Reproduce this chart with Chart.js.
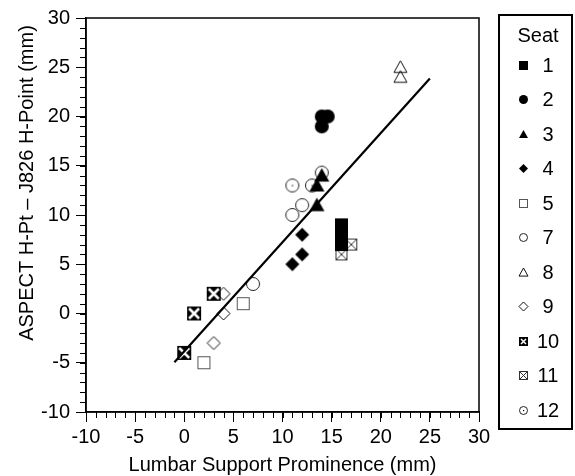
<!DOCTYPE html>
<html>
<head>
<meta charset="utf-8">
<script src="https://cdn.jsdelivr.net/npm/chart.js@4.4.0/dist/chart.umd.min.js"></script>
<style>
  html, body { margin: 0; padding: 0; background: #fff; }
</style>
</head>
<body>
<canvas id="seatChart" width="575" height="476"></canvas>
<script>
// Measurements per seat: [lumbar prominence (mm), H-point difference (mm)]
const seatNames = ['1', '2', '3', '4', '5', '7', '8', '9', '10', '11', '12'];
const seat1 = [[16, 7], [16, 8], [16, 9]];
const seat2 = [[14, 20], [14.6, 20], [14, 19]];
const seat3 = [[14, 14], [13.5, 13], [13.5, 11]];
const seat4 = [[12, 8], [12, 6], [11, 5]];
const seat5 = [[6, 1], [2, -5]];
const seat7 = [[12, 11], [11, 10], [7, 3], [14, 14.3]];
const seat8 = [[22, 25], [22, 24]];
const seat9 = [[4, 2], [4, 0], [3, -3]];
const seat10 = [[3, 2], [1, 0], [0, -4]];
const seat11 = [[16, 6], [17, 7]];
const seat12 = [[11, 13], [13, 13]];
const seatPoints = [seat1, seat2, seat3, seat4, seat5, seat7, seat8, seat9, seat10, seat11, seat12];

// regression line end points
const fitX = [-1, 25];
const fitY = [-4.95, 23.86];

const xTicks = { min: -10, max: 30, step: 5 };
const yTicks = { min: -10, max: 30, step: 5 };

// marker shape for each seat, and its size on the plot
const seatMarks = ['square', 'disc', 'triangle', 'diamond', 'openSquare', 'openCircle',
  'openTriangle', 'openDiamond', 'xSquareFill', 'xSquare', 'dotCircle'];
const plotSize = { square: 13, disc: 14, triangle: 15, diamond: 14, openSquare: 13, openCircle: 14,
  openTriangle: 13, openDiamond: 13, xSquareFill: 14, xSquare: 12, dotCircle: 14 };

const FONT = '"Liberation Sans", Arial, Helvetica, sans-serif';

function paintMarker(ctx, kind, c, s) {
  const h = s / 2;
  ctx.lineWidth = 1;
  ctx.strokeStyle = '#111';
  ctx.fillStyle = '#000';
  ctx.beginPath();
  switch (kind) {
    case 'square':
      ctx.fillRect(c - h, c - h, s, s);
      break;
    case 'disc':
      ctx.arc(c, c, h, 0, Math.PI * 2);
      ctx.fill();
      break;
    case 'triangle':
    case 'openTriangle':
      ctx.moveTo(c, c - h);
      ctx.lineTo(c + h, c + h * 0.8);
      ctx.lineTo(c - h, c + h * 0.8);
      ctx.closePath();
      kind === 'triangle' ? ctx.fill() : ctx.stroke();
      break;
    case 'diamond':
    case 'openDiamond':
      ctx.moveTo(c, c - h);
      ctx.lineTo(c + h, c);
      ctx.lineTo(c, c + h);
      ctx.lineTo(c - h, c);
      ctx.closePath();
      kind === 'diamond' ? ctx.fill() : ctx.stroke();
      break;
    case 'openSquare':
      ctx.strokeStyle = '#555';
      ctx.strokeRect(c - h + 0.5, c - h + 0.5, s - 1, s - 1);
      break;
    case 'openCircle':
    case 'dotCircle':
      ctx.strokeStyle = '#222';
      ctx.arc(c, c, h - 0.5, 0, Math.PI * 2);
      ctx.stroke();
      if (kind === 'dotCircle') ctx.fillRect(c - 0.5, c - 0.5, 1.2, 1.2);
      break;
    case 'xSquareFill':
      ctx.fillRect(c - h, c - h, s, s);
      ctx.strokeStyle = '#fff';
      ctx.lineWidth = s > 10 ? 2.5 : 1.5;
      ctx.moveTo(c - h + 2, c - h + 2); ctx.lineTo(c + h - 2, c + h - 2);
      ctx.moveTo(c + h - 2, c - h + 2); ctx.lineTo(c - h + 2, c + h - 2);
      ctx.stroke();
      break;
    case 'xSquare':
      ctx.strokeStyle = '#333';
      ctx.strokeRect(c - h + 0.5, c - h + 0.5, s - 1, s - 1);
      ctx.moveTo(c - h + 1, c - h + 1); ctx.lineTo(c + h - 1, c + h - 1);
      ctx.moveTo(c + h - 1, c - h + 1); ctx.lineTo(c - h + 1, c + h - 1);
      ctx.stroke();
      break;
  }
}

function makeMarker(kind, s) {
  const cv = document.createElement('canvas');
  cv.width = cv.height = s + 2;
  paintMarker(cv.getContext('2d'), kind, (s + 2) / 2, s);
  return cv;
}

const datasets = seatPoints.map((pts, i) => ({
  label: seatNames[i],
  data: pts.map(p => ({ x: p[0], y: p[1] })),
  pointStyle: makeMarker(seatMarks[i], plotSize[seatMarks[i]]),
  legendIcon: makeMarker(seatMarks[i], 9),
  order: seatNames[i] === '9' ? 1 : 0
}));

datasets.push({
  label: 'fit',
  data: fitX.map((x, i) => ({ x, y: fitY[i] })),
  showLine: true,
  borderColor: '#000',
  borderWidth: 2.2,
  pointRadius: 0,
  order: -1
});

// frame around the plot plus the 1 mm minor ticks
const frameTicks = {
  id: 'frameTicks',
  afterDraw(chart) {
    const { ctx, chartArea: a, scales: { x, y } } = chart;
    ctx.save();
    ctx.strokeStyle = '#000';
    ctx.lineWidth = 1;
    ctx.beginPath();
    for (let v = x.min; v <= x.max; v++) {
      const px = Math.round(x.getPixelForValue(v)) + 0.5;
      ctx.moveTo(px, a.bottom); ctx.lineTo(px, a.bottom + 6);
    }
    for (let v = y.min; v <= y.max; v++) {
      const py = Math.round(y.getPixelForValue(v)) + 0.5;
      ctx.moveTo(a.left - 6, py); ctx.lineTo(a.left, py);
    }
    ctx.stroke();
    ctx.lineWidth = 1.5;
    ctx.strokeRect(a.left, a.top, a.right - a.left, a.bottom - a.top);

    // y axis title
    ctx.fillStyle = '#000';
    ctx.font = '20px ' + FONT;
    ctx.textAlign = 'center';
    ctx.textBaseline = 'middle';
    ctx.translate(27, 183);
    ctx.rotate(-Math.PI / 2);
    ctx.fillText('ASPECT H-Pt \u2013 J826 H-Point (mm)', 0, 0);
    ctx.restore();
  }
};

// boxed legend on the right
const seatLegend = {
  id: 'seatLegend',
  afterDraw(chart) {
    const ctx = chart.ctx;
    ctx.save();
    ctx.strokeStyle = '#000';
    ctx.lineWidth = 2;
    ctx.strokeRect(499, 15, 73, 414);
    ctx.fillStyle = '#000';
    ctx.font = '20px ' + FONT;
    ctx.textAlign = 'center';
    ctx.textBaseline = 'middle';
    ctx.fillText('Seat', 538, 36);
    let row = 0;
    chart.data.datasets.forEach(ds => {
      if (!ds.legendIcon) return;
      const yy = 65 + row * 34.5;
      const ic = ds.legendIcon;
      ctx.drawImage(ic, Math.round(523 - ic.width / 2), Math.round(yy - ic.height / 2));
      ctx.fillText(ds.label, 548, yy + 1);
      row++;
    });
    ctx.restore();
  }
};

new Chart(document.getElementById('seatChart'), {
  type: 'scatter',
  data: { datasets },
  options: {
    responsive: false,
    animation: false,
    layout: { padding: { top: 17, right: 96, left: 0, bottom: 0 } },
    plugins: { legend: { display: false }, tooltip: { enabled: false } },
    scales: {
      x: {
        type: 'linear',
        min: xTicks.min,
        max: xTicks.max,
        afterFit: s => { s.height = 64; },
        ticks: { stepSize: xTicks.step, color: '#000', font: { family: FONT, size: 20 }, padding: 3, maxRotation: 0 },
        grid: { drawOnChartArea: false, tickLength: 10, color: '#000' },
        border: { color: '#000', width: 1.5 },
        title: { display: true, text: 'Lumbar Support Prominence (mm)', color: '#000',
          font: { family: FONT, size: 20, lineHeight: 1 }, padding: { top: 0, bottom: 1 } }
      },
      y: {
        type: 'linear',
        min: yTicks.min,
        max: yTicks.max,
        afterFit: s => { s.width = 86; },
        ticks: { stepSize: yTicks.step, color: '#000', font: { family: FONT, size: 20 }, padding: 6 },
        grid: { drawOnChartArea: false, tickLength: 10, color: '#000' },
        border: { color: '#000', width: 1.5 }
      }
    }
  },
  plugins: [frameTicks, seatLegend]
});
</script>
</body>
</html>
